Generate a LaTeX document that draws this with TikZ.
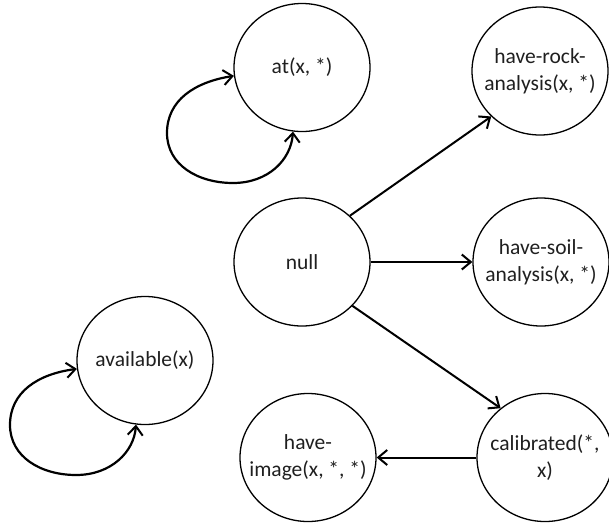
\documentclass[tikz,border=0pt]{standalone}
\usepackage{fontspec}
\setmainfont{Carlito}
\usetikzlibrary{shapes.geometric,arrows.meta}
\begin{document}
\begin{tikzpicture}[x=1pt,y=-1pt,
  state/.style={draw=black,line width=1.3pt,ellipse,minimum width=136pt,minimum height=128pt,inner sep=0pt,
    label={[align=center,font=\fontsize{21.5}{27}\selectfont,text=black!88]center:#1}},
  conn/.style={line width=2pt,-{Straight Barb[length=9pt,width=15pt,line width=2pt]}},
  selfloop/.style={line width=2.2pt,{Straight Barb[length=9pt,width=15pt,line width=2pt]}-{Straight Barb[length=9pt,width=15pt,line width=2pt]}}]
\useasboundingbox (0,0) rectangle (609,525);
\node[state={at(x, *)}] (at) at (302,67.5) {};
\node[state={have-rock-\\analysis(x, *)}] (rock) at (540,71) {};
\node[state={null}] (null) at (302,262) {};
\node[state={have-soil-\\analysis(x, *)}] (soil) at (541,262) {};
\node[state={available(x)}] (avail) at (145,360.5) {};
\node[state={have-\\image(x, *, *)}] (image) at (308,457.5) {};
\node[state={calibrated(*,\\x)}] (calib) at (545,457.5) {};
\draw[conn] (null.44) -- (rock.223);
\draw[conn] (null.east) -- (soil.west);
\draw[conn] (null.-41) -- (calib.132);
\draw[conn] (calib.west) -- (image.east);
\draw[selfloop] (at.262) .. controls (291,160) and (268,183) .. (233,183)
  .. controls (198,183) and (167,165) .. (167,133)
  .. controls (167,100) and (195,82) .. (at.187);
\draw[selfloop] (avail.262) .. controls (134,452) and (111,475) .. (76,475)
  .. controls (41,475) and (10,457) .. (10,425)
  .. controls (10,392) and (38,374) .. (avail.187);
\end{tikzpicture}
\end{document}
